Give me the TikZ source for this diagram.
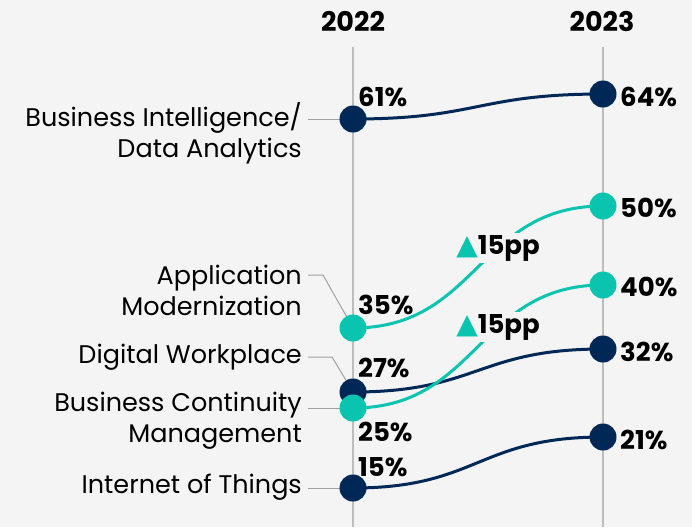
\documentclass[tikz,border=0pt]{standalone}
\usepackage{fontspec}
\setmainfont{Poppins}
\newfontfamily\symfont{DejaVu Sans}
\definecolor{bgc}{HTML}{F4F4F4}
\definecolor{navyc}{HTML}{002856}
\definecolor{tealc}{HTML}{0BC4B0}
\definecolor{axisc}{HTML}{BDBDBD}
\definecolor{leadc}{HTML}{A0A0A0}
\pgfdeclarelayer{backl}
\pgfdeclarelayer{linesl}
\pgfsetlayers{backl,linesl,main}
\begin{document}
\begin{tikzpicture}[x=1pt,y=-1pt,
  axisline/.style={draw=axisc, line width=1.5pt},
  leader/.style={draw=leadc, line width=1pt},
  ndot/.style={circle, fill=navyc, minimum size=27pt, inner sep=0pt},
  tdot/.style={circle, fill=tealc, minimum size=27pt, inner sep=0pt},
  nline/.style={draw=navyc, line width=3pt},
  tline/.style={draw=tealc, line width=3pt},
  lab/.style={anchor=east, align=right, inner sep=0pt, font=\fontsize{25.5}{31}\selectfont},
  pct/.style={anchor=west, inner sep=0pt, font=\bfseries\fontsize{26}{28}\selectfont},
  yearlab/.style={inner sep=0pt, font=\bfseries\fontsize{27}{28}\selectfont},
  pplab/.style={fill=bgc, inner sep=2pt, font=\bfseries\fontsize{26}{28}\selectfont}
]
\begin{pgfonlayer}{backl}
\fill[bgc] (0,0) rectangle (692,527);
\coordinate (t22) at (353,47); \coordinate (b22) at (353,527);
\coordinate (t23) at (603,47); \coordinate (b23) at (603,527);
\draw[axisline] (t22) -- (b22);
\draw[axisline] (t23) -- (b23);
\end{pgfonlayer}
\useasboundingbox (0,0) rectangle (692,527);

\node[yearlab] (y22) at (353,21) {2022};
\node[yearlab] (y23) at (602,21) {2023};

% dots
\node[ndot] (bi22) at (353,119) {};
\node[tdot] (am22) at (353,328) {};
\node[ndot] (dw22) at (353,392) {};
\node[tdot] (bc22) at (353,408) {};
\node[ndot] (io22) at (353,488) {};
\node[ndot] (bi23) at (603,94) {};
\node[tdot] (am23) at (603,206) {};
\node[tdot] (bc23) at (603,285) {};
\node[ndot] (dw23) at (603,349) {};
\node[ndot] (io23) at (603,437) {};

\begin{pgfonlayer}{linesl}
% leaders
\coordinate (bil) at (308,119);
\coordinate (aml) at (308,275);
\coordinate (dwl) at (308,357);
\coordinate (bcl) at (308,408);
\coordinate (iol) at (308,488);
\draw[leader] (bil) -- (bi22.center);
\draw[leader] (aml) -- ++(15,0) -- (am22.center);
\draw[leader] (dwl) -- ++(24,0) -- (dw22.center);
\draw[leader] (bcl) -- (bc22.center);
\draw[leader] (iol) -- (io22.center);
% curves
\draw[nline] (bi22.center) .. controls +(125,0) and +(-125,0) .. (bi23.center);
\draw[nline] (dw22.center) .. controls +(125,0) and +(-125,0) .. (dw23.center);
\draw[nline] (io22.center) .. controls +(125,0) and +(-125,0) .. (io23.center);
\draw[tline] (am22.center) .. controls +(125,0) and +(-125,0) .. (am23.center);
\draw[tline] (bc22.center) .. controls +(125,0) and +(-125,0) .. (bc23.center);
\end{pgfonlayer}

% category labels
\node[lab] (bilab) at (302,133) {Business Intelligence/\\Data Analytics};
\node[lab] (amlab) at (302,290) {Application\\Modernization};
\node[lab] (dwlab) at (302,357) {Digital Workplace};
\node[lab] (bclab) at (302,421) {Business Continuity\\Management};
\node[lab] (iolab) at (302,487) {Internet of Things};

% percentages
\node[pct] (p61) at (358,97) {61\%};
\node[pct] (p35) at (358,305) {35\%};
\node[pct] (p27) at (358,368) {27\%};
\node[pct] (p25) at (358,432) {25\%};
\node[pct] (p15) at (358,467) {15\%};
\node[pct] (p64) at (620,97) {64\%};
\node[pct] (p50) at (620,208) {50\%};
\node[pct] (p40) at (620,287) {40\%};
\node[pct] (p32) at (620,352) {32\%};
\node[pct] (p21) at (620,440) {21\%};

% pp labels
\node[pplab] (pp1) at (498,248) {{\symfont\fontsize{28}{28}\selectfont\color{tealc}▲}15pp};
\node[pplab] (pp2) at (498,327) {{\symfont\fontsize{28}{28}\selectfont\color{tealc}▲}15pp};
\end{tikzpicture}
\end{document}
